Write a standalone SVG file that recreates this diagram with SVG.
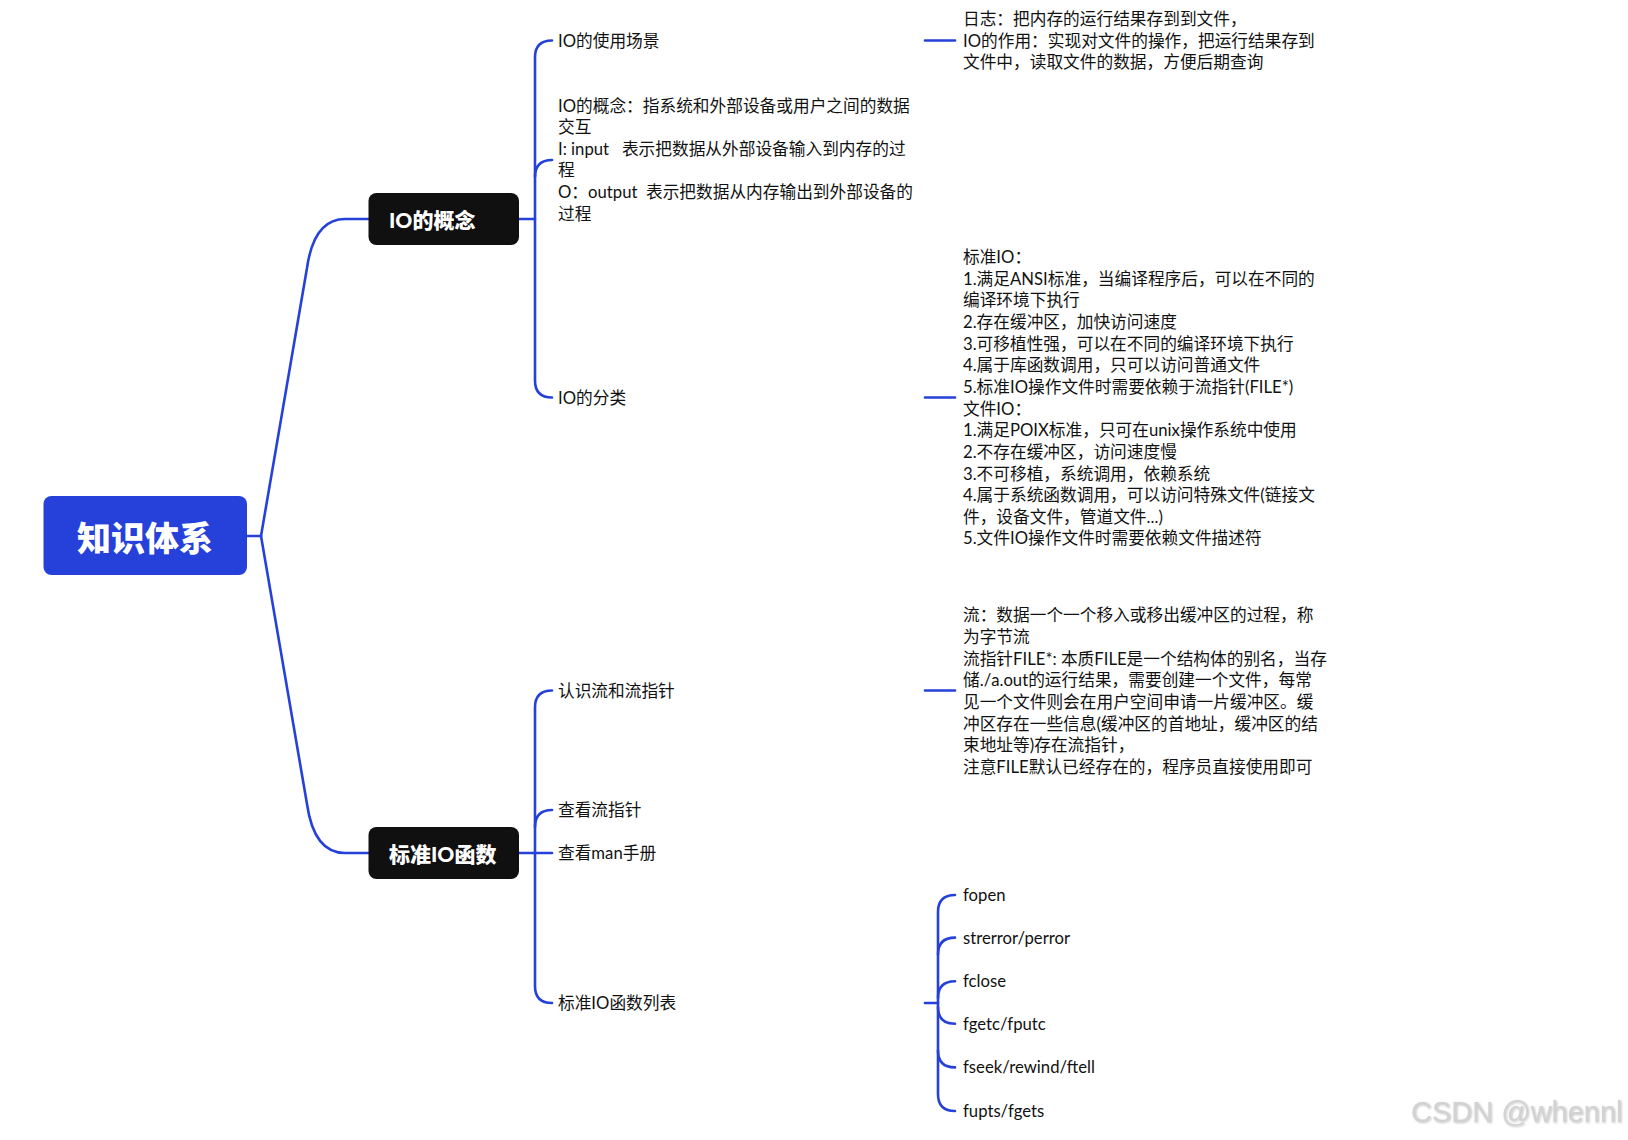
<svg xmlns="http://www.w3.org/2000/svg" width="1628" height="1140" viewBox="0 0 1628 1140">
<defs>
<style>
.conn path{fill:none;stroke:#2541DA;stroke-width:2.6;stroke-linecap:round;stroke-linejoin:round}
.t{font-family:Lato,"Noto Sans CJK SC",sans-serif;font-size:16.7px;fill:#111;dominant-baseline:central}
.t tspan{dominant-baseline:central}
.root rect{fill:#2541DA}
.root text{font-family:"Noto Sans CJK SC",sans-serif;font-size:34px;font-weight:900;fill:#fff;dominant-baseline:central;text-anchor:middle}
.main rect{fill:#101010}
.main text{font-family:Lato,"Noto Sans CJK SC",sans-serif;font-size:21px;font-weight:900;fill:#fff;dominant-baseline:central}
.wm{font-family:"Liberation Sans",Arial,sans-serif;font-size:29px;fill:#d2d2d2}
</style>
<filter id="sh" x="-10%" y="-30%" width="120%" height="160%">
<feDropShadow dx="1" dy="1" stdDeviation="0.8" flood-color="#999" flood-opacity="0.6"/>
</filter>
</defs>
<rect width="1628" height="1140" fill="#fff"/>

<g id="connectors" class="conn">
<path d="M247,536 H261"/>
<path d="M261,536 L307,268 C311,240 322,219 345,219 H368.5"/>
<path d="M261,536 L307,804 C311,832 322,853 345,853 H368.5"/>
<path d="M519,219 H535"/>
<path d="M552,40.5 Q535,40.5 535,57.5 V380.5 Q535,397.5 552,397.5"/>
<path d="M535,177 Q535,160 552,160"/>
<path d="M925,40.5 H955"/>
<path d="M925,397.5 H955"/>
<path d="M519,853 H552"/>
<path d="M552,690.5 Q535,690.5 535,707.5 V986 Q535,1003 552,1003"/>
<path d="M535,827 Q535,810 552,810"/>
<path d="M925,690.5 H955"/>
<path d="M925,1003 H938"/>
<path d="M955,895 Q938,895 938,912 V1094 Q938,1111 955,1111"/>
<path d="M938,954.5 Q938,937.6 955,937.6"/>
<path d="M938,998 Q938,981.2 955,981.2"/>
<path d="M938,1007 Q938,1023.8 955,1023.8"/>
<path d="M938,1050.5 Q938,1067.4 955,1067.4"/>
</g>

<g id="root" class="root">
<rect x="43.5" y="496" width="203.5" height="79" rx="8"/>
<text x="145" y="536">知识体系</text>
</g>

<g id="io-concept" class="main">
<rect x="368.5" y="193" width="150.5" height="52" rx="8"/>
<text x="389" y="219">IO的概念</text>
</g>

<g id="std-io-func" class="main">
<rect x="368.5" y="827" width="150.5" height="52" rx="8"/>
<text x="389" y="853">标准IO函数</text>
</g>

<g id="io-usage">
<text class="t" x="558" y="40.5">IO的使用场景</text>
</g>

<g id="io-def">
<text class="t" xml:space="preserve"><tspan x="558" y="105.5">IO的概念：指系统和外部设备或用户之间的数据</tspan><tspan x="558" y="127.1">交互</tspan><tspan x="558" y="148.7">I: input   表示把数据从外部设备输入到内存的过</tspan><tspan x="558" y="170.3">程</tspan><tspan x="558" y="191.9">O：output  表示把数据从内存输出到外部设备的</tspan><tspan x="558" y="213.5">过程</tspan></text>
</g>

<g id="io-class">
<text class="t" x="558" y="397.5">IO的分类</text>
</g>

<g id="note-usage">
<text class="t"><tspan x="963" y="18.9">日志：把内存的运行结果存到到文件，</tspan><tspan x="963" y="40.5">IO的作用：实现对文件的操作，把运行结果存到</tspan><tspan x="963" y="62.1">文件中，读取文件的数据，方便后期查询</tspan></text>
</g>

<g id="note-class">
<text class="t"><tspan x="963" y="257">标准IO：</tspan><tspan x="963" y="278.65">1.满足ANSI标准，当编译程序后，可以在不同的</tspan><tspan x="963" y="300.3">编译环境下执行</tspan><tspan x="963" y="321.95">2.存在缓冲区，加快访问速度</tspan><tspan x="963" y="343.6">3.可移植性强，可以在不同的编译环境下执行</tspan><tspan x="963" y="365.25">4.属于库函数调用，只可以访问普通文件</tspan><tspan x="963" y="386.9">5.标准IO操作文件时需要依赖于流指针(FILE*)</tspan><tspan x="963" y="408.55">文件IO：</tspan><tspan x="963" y="430.2">1.满足POIX标准，只可在unix操作系统中使用</tspan><tspan x="963" y="451.85">2.不存在缓冲区，访问速度慢</tspan><tspan x="963" y="473.5">3.不可移植，系统调用，依赖系统</tspan><tspan x="963" y="495.15">4.属于系统函数调用，可以访问特殊文件(链接文</tspan><tspan x="963" y="516.8">件，设备文件，管道文件...)</tspan><tspan x="963" y="538.45">5.文件IO操作文件时需要依赖文件描述符</tspan></text>
</g>

<g id="stream">
<text class="t" x="558" y="690.5">认识流和流指针</text>
</g>

<g id="note-stream">
<text class="t"><tspan x="963" y="615.4">流：数据一个一个移入或移出缓冲区的过程，称</tspan><tspan x="963" y="637.05">为字节流</tspan><tspan x="963" y="658.7">流指针FILE*: 本质FILE是一个结构体的别名，当存</tspan><tspan x="963" y="680.35">储./a.out的运行结果，需要创建一个文件，每常</tspan><tspan x="963" y="702">见一个文件则会在用户空间申请一片缓冲区。缓</tspan><tspan x="963" y="723.65">冲区存在一些信息(缓冲区的首地址，缓冲区的结</tspan><tspan x="963" y="745.3">束地址等)存在流指针，</tspan><tspan x="963" y="766.95">注意FILE默认已经存在的，程序员直接使用即可</tspan></text>
</g>

<g id="view-stream">
<text class="t" x="558" y="810">查看流指针</text>
</g>

<g id="man">
<text class="t" x="558" y="853">查看man手册</text>
</g>

<g id="func-list">
<text class="t" x="558" y="1003">标准IO函数列表</text>
</g>

<g id="fopen"><text class="t" x="963" y="895">fopen</text></g>
<g id="strerror"><text class="t" x="963" y="937.6">strerror/perror</text></g>
<g id="fclose"><text class="t" x="963" y="981.2">fclose</text></g>
<g id="fgetc"><text class="t" x="963" y="1023.8">fgetc/fputc</text></g>
<g id="fseek"><text class="t" x="963" y="1067.4">fseek/rewind/ftell</text></g>
<g id="fupts"><text class="t" x="963" y="1111">fupts/fgets</text></g>

<text class="wm" x="1411" y="1122" filter="url(#sh)">CSDN @whennl</text>
</svg>
